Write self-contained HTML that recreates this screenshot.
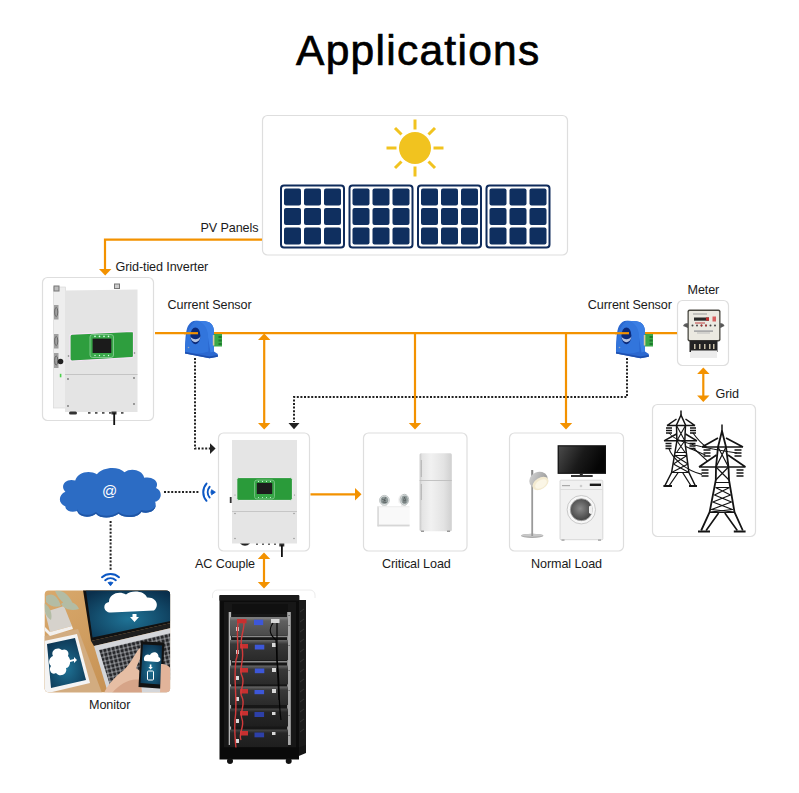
<!DOCTYPE html>
<html><head><meta charset="utf-8">
<style>
html,body{margin:0;padding:0;background:#fff;}
body{width:799px;height:793px;position:relative;overflow:hidden;font-family:"Liberation Sans",sans-serif;}
svg{position:absolute;left:0;top:0;}
.t{font-family:"Liberation Sans",sans-serif;font-size:12.6px;letter-spacing:-0.1px;fill:#1a1a1a;}
</style></head><body>
<svg width="799" height="793" viewBox="0 0 799 793">
<defs>
  <g id="panel">
    <rect x="1" y="1" width="63" height="62" rx="3" fill="#fff" stroke="#0f2b5b" stroke-width="2"/>
    <g fill="#0f2f5f">
      <rect x="4" y="4" width="17" height="17" rx="2"/>
      <rect x="24" y="4" width="17" height="17" rx="2"/>
      <rect x="44" y="4" width="17" height="17" rx="2"/>
      <rect x="4" y="23.5" width="17" height="17" rx="2"/>
      <rect x="24" y="23.5" width="17" height="17" rx="2"/>
      <rect x="44" y="23.5" width="17" height="17" rx="2"/>
      <rect x="4" y="43" width="17" height="17" rx="2"/>
      <rect x="24" y="43" width="17" height="17" rx="2"/>
      <rect x="44" y="43" width="17" height="17" rx="2"/>
    </g>
  </g>
</defs>

<!-- Title -->
<text x="296" y="65.2" font-family="Liberation Sans" font-size="42.5" letter-spacing="1.28" fill="#000" stroke="#000" stroke-width="0.7">Applications</text>

<!-- boxes -->
<g fill="#fff" stroke="#dedede" stroke-width="1.2">
  <rect x="262.5" y="115.5" width="305" height="139.5" rx="5"/>
  <rect x="42.5" y="277.5" width="111" height="143" rx="5"/>
  <rect x="677.5" y="300.5" width="51" height="65" rx="5"/>
  <rect x="652.5" y="404.5" width="103" height="132" rx="5"/>
  <rect x="218.5" y="433" width="91" height="118" rx="5"/>
  <rect x="363.5" y="433" width="103.5" height="118" rx="5"/>
  <rect x="509.5" y="433" width="114" height="118" rx="5"/>
</g>

<!-- sun -->
<g fill="#f1c31f">
  <circle cx="415" cy="148" r="16"/>
</g>
<g stroke="#f1c31f" stroke-width="3">
  <line x1="415" y1="119.5" x2="415" y2="129.5"/>
  <line x1="415" y1="166.5" x2="415" y2="176.5"/>
  <line x1="386.5" y1="148" x2="396.5" y2="148"/>
  <line x1="433.5" y1="148" x2="443.5" y2="148"/>
  <line x1="395" y1="128" x2="401.5" y2="134.5"/>
  <line x1="435" y1="128" x2="428.5" y2="134.5"/>
  <line x1="395" y1="168" x2="401.5" y2="161.5"/>
  <line x1="435" y1="168" x2="428.5" y2="161.5"/>
</g>

<!-- panels -->
<use href="#panel" x="280" y="184.5"/>
<use href="#panel" x="348.5" y="184.5"/>
<use href="#panel" x="417" y="184.5"/>
<use href="#panel" x="485.5" y="184.5"/>

<!-- dotted lines -->
<g stroke="#222" stroke-width="2" fill="none" stroke-dasharray="2 1.6">
  <path d="M195 358 V448.6 H211"/>
  <path d="M627 358 V397 H294 V422"/>
  <path d="M164 492 H199"/>
  <path d="M110.6 521 V571"/>
</g>
<g fill="#222">
  <path d="M210 443.2 V454 L215.6 448.6 Z"/>
  <path d="M288.5 423 H299.5 L294 429.2 Z"/>
</g>

<!-- orange lines -->
<g stroke="#f39200" stroke-width="2.2" fill="none">
  <path d="M262 239.7 H105 V270"/>
  <path d="M155 333.2 H677"/>
  <path d="M264.2 338 V424"/>
  <path d="M415 333.2 V424"/>
  <path d="M566 333.2 V424"/>
  <path d="M310.5 494.3 H356"/>
  <path d="M264 556 V584"/>
  <path d="M703.3 372 V397"/>
</g>
<g fill="#f39200">
  <path d="M99 269 H111.4 L105.2 275.5 Z"/>
  <path d="M258 340 H270.4 L264.2 333.6 Z"/>
  <path d="M258 423 H270.4 L264.2 429.4 Z"/>
  <path d="M408.8 423 H421.2 L415 429.4 Z"/>
  <path d="M559.8 423 H572.2 L566 429.4 Z"/>
  <path d="M355 488 V500.5 L361.5 494.3 Z"/>
  <path d="M257.8 559 H270.2 L264 552.6 Z"/>
  <path d="M257.8 582 H270.2 L264 588.4 Z"/>
  <path d="M697.1 374 H709.5 L703.3 367.6 Z"/>
  <path d="M697.1 395.5 H709.5 L703.3 401.9 Z"/>
</g>

<!-- grid-tied inverter -->
<g id="inv1">
  <rect x="53.5" y="287" width="12" height="121" fill="#eeeeee" stroke="#d4d4d4" stroke-width="0.6"/>
  <rect x="54" y="305" width="4.5" height="14.5" fill="#a0a0a0"/>
  <rect x="54" y="334" width="4.5" height="14.5" fill="#a0a0a0"/>
  <rect x="54" y="353" width="4.5" height="15" fill="#a0a0a0"/>
  <g fill="none" stroke="#5a5a5a" stroke-width="0.8"><ellipse cx="56.2" cy="312" rx="1.6" ry="4.5"/><ellipse cx="56.2" cy="341" rx="1.6" ry="4.5"/><ellipse cx="56.2" cy="360.5" rx="1.6" ry="4.5"/></g>
  <circle cx="60.5" cy="361.5" r="2.8" fill="#222"/>
  <rect x="59.8" y="373.8" width="1.6" height="3.5" fill="#4cd04c"/>
  <rect x="54" y="286" width="5" height="5" fill="#bbb" stroke="#777" stroke-width="1"/>
  <rect x="114.5" y="284" width="5" height="4.5" fill="#ccc" stroke="#777" stroke-width="1"/>
  <path d="M65 290.5 L137.5 289.5 V412 H65 Z" fill="#e4e4e4"/>
  <path d="M65 374.5 H137.5" stroke="#c4c4c4" stroke-width="1"/>
  <path d="M72 334.2 L132 331.3 Q133.5 331.3 133.5 333 L133.5 356 Q133.5 357.5 132 357.6 L72 361 Q70 361 70 359 L70 336.4 Q70 334.3 72 334.2 Z" fill="#2e9e3e" stroke="#f6e4f6" stroke-width="1.2"/>
  <rect x="90" y="334.5" width="23.5" height="23" rx="2.5" fill="#3aa84a" stroke="#8fd09a" stroke-width="0.8"/>
  <rect x="92.6" y="338.6" width="18.7" height="14.4" fill="#1b1b1b"/>
  <g fill="#dfe">
    <circle cx="95" cy="336.4" r="0.8"/><circle cx="99.5" cy="336.4" r="0.8"/><circle cx="104" cy="336.4" r="0.8"/><circle cx="108.5" cy="336.4" r="0.8"/>
    <circle cx="95" cy="355.5" r="0.7"/><circle cx="99.5" cy="355.5" r="0.7"/><circle cx="104" cy="355.5" r="0.7"/><circle cx="108.5" cy="355.5" r="0.7"/>
  </g>
  <g fill="#777"><circle cx="68" cy="379" r="0.9"/><circle cx="134" cy="378" r="0.9"/><circle cx="68" cy="406" r="0.9"/><circle cx="134" cy="404" r="0.9"/><circle cx="68.5" cy="356" r="0.8"/><circle cx="134.5" cy="353" r="0.8"/></g>
  <rect x="69" y="411.5" width="8" height="3" rx="1.5" fill="#333"/>
  <g fill="#555"><rect x="88" y="412" width="2.5" height="1.8"/><rect x="95" y="412" width="2.5" height="1.8"/><rect x="102" y="412" width="2.5" height="1.8"/><rect x="109" y="412" width="2.5" height="1.8"/><rect x="121" y="412" width="2.5" height="1.8"/></g>
  <rect x="111.5" y="411.5" width="5" height="3" fill="#333"/>
  <rect x="113.3" y="413" width="1.8" height="12" fill="#111"/>
</g>

<!-- AC couple inverter -->
<g id="inv2">
  <rect x="232" y="440" width="65" height="103.5" fill="#e5e5e5"/>
  <path d="M232 511.5 H297" stroke="#c6c6c6" stroke-width="1"/>
  <rect x="236.8" y="477.6" width="55.6" height="22.8" rx="2" fill="#2a9b3a" stroke="#f4eef4" stroke-width="1"/>
  <rect x="254.5" y="480" width="20" height="19" rx="2.5" fill="#36a646" stroke="#8ccc96" stroke-width="0.7"/>
  <rect x="256.8" y="482.9" width="15.4" height="11.1" fill="#1c1c1c"/>
  <g fill="#dfe">
    <circle cx="258.5" cy="481.3" r="0.6"/><circle cx="262.5" cy="481.3" r="0.6"/><circle cx="266.5" cy="481.3" r="0.6"/><circle cx="270.5" cy="481.3" r="0.6"/>
    <circle cx="258.5" cy="497.5" r="0.5"/><circle cx="262.5" cy="497.5" r="0.5"/><circle cx="266.5" cy="497.5" r="0.5"/><circle cx="270.5" cy="497.5" r="0.5"/>
  </g>
  <g fill="#888"><circle cx="235" cy="513.5" r="0.7"/><circle cx="294" cy="513.5" r="0.7"/><circle cx="235" cy="538.5" r="0.7"/><circle cx="294" cy="538.5" r="0.7"/><circle cx="235" cy="495" r="0.6"/><circle cx="294.5" cy="495" r="0.6"/></g>
  <rect x="229.8" y="497" width="1.8" height="6" fill="#333"/>
  <path d="M240 543.5 Q245 548 250 543.5 Z" fill="#222"/>
  <g fill="#666"><rect x="256" y="543.5" width="2" height="1.5"/><rect x="262" y="543.5" width="2" height="1.5"/><rect x="268" y="543.5" width="2" height="1.5"/><rect x="274" y="543.5" width="2" height="1.5"/></g>
  <rect x="279.3" y="543.5" width="5" height="3" fill="#333"/>
  <rect x="281" y="545" width="1.8" height="12" fill="#111"/>
</g>

<!-- current sensors -->
<defs>
  <g id="sensor">
    <path d="M0.5 33 C0.5 22 1 10 3.5 5.5 C5.5 2 8 0.2 11 0.2 L21 0.8 C26.5 1.5 29.5 5.5 29.5 11 L29.5 31 L33.3 33.5 L33.3 36.2 L25 37.8 Z" fill="#2b68d0"/>
    <path d="M11 0.2 L21 0.8 C26.5 1.5 29.5 5.5 29.5 11 L29.5 31 L26 32 L23 14 C22 6 17 1 11 0.2 Z" fill="#3a7ee4"/>
    <path d="M0.8 31 C1 20 1.5 8 11 0.5 C19 1 23 7 23.5 15 L24 31 C16 34 6 33 0.8 31 Z" fill="#3275dc"/>
    <ellipse cx="10.9" cy="15.3" rx="5" ry="8.4" fill="#0b2a7a"/>
    <path d="M6 16 C6.5 23.5 15.3 23.5 15.8 16 C14 19.5 8 19.5 6 16 Z" fill="#b4c4e2"/>
    <rect x="29.3" y="13.5" width="8.2" height="12.5" fill="#3aa848"/>
    <g fill="#1f7a2e"><rect x="34" y="15.5" width="3.2" height="2"/><rect x="34" y="19" width="3.2" height="2"/><rect x="34" y="22.5" width="3.2" height="2"/></g>
    <rect x="28.3" y="14.5" width="1.6" height="10.5" fill="#d8c8a0"/>
    <path d="M0.5 33 L25 37.8 L33.3 36.2 L33.3 34.5 L25 36 L0.6 31.5 Z" fill="#1d4fae"/>
    <circle cx="4" cy="27" r="0.8" fill="#9ab"/>
  </g>
</defs>
<use href="#sensor" x="184.5" y="320.5"/>
<use href="#sensor" x="615.5" y="320.5"/>
<!-- orange line passes through sensor hole -->
<path d="M184 333.2 H198" stroke="#f39200" stroke-width="2.2"/>
<path d="M615 333.2 H629" stroke="#f39200" stroke-width="2.2"/>

<!-- meter -->
<g id="meter">
  <rect x="687.5" y="309.5" width="33" height="32" rx="2" fill="#4a4942"/>
  <rect x="688.8" y="311" width="30.4" height="29" rx="1" fill="#ebe9e1"/>
  <rect x="693" y="313.5" width="14" height="1" fill="#999"/>
  <rect x="694" y="317.5" width="15" height="3.2" fill="#2b2b2b"/>
  <rect x="706" y="317.5" width="3" height="3.2" fill="#c03030"/>
  <rect x="712.5" y="316.5" width="3.5" height="5" fill="#d86060"/>
  <rect x="695" y="322.5" width="10" height="1" fill="#c04040"/>
  <g fill="#444"><circle cx="692.5" cy="325.5" r="1"/><circle cx="697" cy="325.5" r="1"/><circle cx="701.5" cy="325.5" r="1"/><circle cx="706" cy="325.5" r="1"/><circle cx="710.5" cy="325.5" r="1"/><circle cx="715" cy="325.5" r="1"/></g>
  <g fill="#b03030"><circle cx="701.5" cy="325.5" r="0.9"/><circle cx="706" cy="325.5" r="0.9"/></g>
  <rect x="694" y="330" width="19" height="1" fill="#bbb"/>
  <rect x="697" y="332.5" width="13" height="1" fill="#bbb"/>
  <path d="M683 326 Q684 323 688 323 V328 Z" fill="#666"/>
  <path d="M724.5 326 Q723.5 323 720 323 V328 Z" fill="#666"/>
  <rect x="689.5" y="340.5" width="28" height="11.5" fill="#242424"/>
  <g fill="#cfc6ae"><rect x="693" y="343" width="1.6" height="7"/><rect x="698" y="343" width="1.6" height="7"/><rect x="703" y="343" width="1.6" height="7"/><rect x="708" y="343" width="1.6" height="7"/><rect x="713" y="343" width="1.6" height="7"/></g>
  <rect x="690" y="352" width="27" height="6" fill="#ededed"/>
  <circle cx="703.8" cy="352.5" r="1.5" fill="#555"/>
</g>
  <rect x="694" y="331" width="19" height="1" fill="#aaa"/>
  <path d="M684 325 L688 324 L688 328 Z" fill="#555"/>
  <path d="M724 325 L720.5 324 L720.5 328 Z" fill="#555"/>
  <rect x="691.5" y="342.5" width="25" height="8" fill="#222"/>
  <g fill="#c9c0a8"><rect x="694" y="344" width="1.5" height="5"/><rect x="699" y="344" width="1.5" height="5"/><rect x="704" y="344" width="1.5" height="5"/><rect x="709" y="344" width="1.5" height="5"/><rect x="713" y="344" width="1.5" height="5"/></g>
  <rect x="691" y="350.5" width="26" height="6" fill="#ececec"/>
</g>

<!-- grid towers -->
<g id="towers" stroke="#141414" fill="none" stroke-width="1.5" stroke-linejoin="round">
  <!-- small tower -->
  <path d="M681 410.5 V415"/>
  <path d="M665 485.5 L671.6 472.5 L676.9 440.8 L676.5 425 L681 415 L685.5 425 L684.8 440.8 L688.9 472.5 L695.2 485.5"/>
  <path d="M669.3 485.5 L678.2 472.5 M682.6 472.5 L690.8 485.5" stroke-width="1.3"/>
  <path d="M667 425.6 H695 M667 425.6 L676.5 419 M695 425.6 L685.5 419"/>
  <path d="M664 440.8 H697 M664 440.8 L676.5 434 M697 440.8 L685.5 434"/>
  <path d="M676.5 425.6 L684.8 440.8 M685.5 425.6 L676.9 440.8 M676.9 440.8 L684.8 452 M684.8 440.8 L676.9 452 M675 452.5 H686.5 M674.6 455.5 H687 M674.6 455.5 L688 464 M687 455.5 L673.4 464 M673.4 464 L688.9 472.5 M688 464 L671.6 472.5 M671.6 472.5 H688.9" stroke-width="1.1"/>
  <g stroke-width="1.4">
    <path d="M666 428 h6 M666 430.5 h6 M666 433 h6"/>
    <path d="M690 428 h6 M690 430.5 h6 M690 433 h6"/>
    <path d="M665.5 443.5 h6 M665.5 446 h6 M665.5 448.5 h6"/>
    <path d="M689.5 443.5 h6 M689.5 446 h6 M689.5 448.5 h6"/>
  </g>
  <path d="M663.4 486 H672 M689 486 H697" stroke-width="2"/>
  <!-- wires -->
  <path d="M693 433 C698 440 702 444 706.5 447" stroke-width="1.1"/>
  <path d="M668.7 448 C672 458 685 470 702 474.4" stroke-width="1.1"/>
  <path d="M685 446.3 L705.3 455" stroke-width="1.1"/>
  <path d="M693.3 448 L707.8 461.4" stroke-width="1.1"/>
  <path d="M669 433 C674 440 690 446 737 453" stroke-width="1"/>
  <!-- big tower -->
  <path d="M722 424.5 V431"/>
  <path d="M701.2 530.5 L709.6 512.2 L715.8 480 L716 467 L718 447 L722 431 L726 447 L728.5 467 L729 480 L734.5 512.2 L742.8 530.5" stroke-width="1.8"/>
  <path d="M706.1 530.5 L718.6 513 M724.8 513 L737.3 530.5" stroke-width="1.6"/>
  <path d="M702 447 H743 M702 447 L718 438 M743 447 L726 438" stroke-width="1.7"/>
  <path d="M699 467 H745.5 M699 467 L716.5 455 M745.5 467 L728 455" stroke-width="1.7"/>
  <path d="M718 447 L728.5 467 M726 447 L716 467 M716 467 L729 480 M728.5 467 L715.8 480 M715.8 482.5 H729.2 M715.5 487.5 H729.5 M715.5 487.5 L730.5 495 L712.8 502 L732.5 509.5 L710 512.2 M729.5 487.5 L714.5 495 L731.5 502 L711.5 509.5 L734.5 512.2 M709.6 512.5 H734.5" stroke-width="1.2"/>
  <g stroke-width="1.6">
    <path d="M703.5 450 h7 M703.5 453 h7 M703.5 456 h7"/>
    <path d="M734.5 450 h7 M734.5 453 h7 M734.5 456 h7"/>
    <path d="M701.5 470 h7 M701.5 473 h7 M701.5 476 h7"/>
    <path d="M736.5 470 h7 M736.5 473 h7 M736.5 476 h7"/>
  </g>
  <path d="M698 531.5 H710 M733.8 531.5 H745.6" stroke-width="2.2"/>
</g>
  <path d="M697 531.5 H711 M733 531.5 H747" stroke-width="2.2"/>
</g>

<!-- critical load -->
<g id="critical">
  <defs>
    <linearGradient id="fr" x1="0" x2="1" y1="0" y2="0">
      <stop offset="0" stop-color="#c6c6c6"/><stop offset="0.08" stop-color="#e4e4e4"/><stop offset="0.35" stop-color="#f1f1f1"/><stop offset="0.75" stop-color="#e3e3e3"/><stop offset="1" stop-color="#d0d0d0"/>
    </linearGradient>
  </defs>
  <rect x="419.6" y="453.2" width="32.2" height="78" rx="1.5" fill="url(#fr)"/>
  <path d="M419.6 480.5 H451.8" stroke="#bdbdbd" stroke-width="0.9"/>
  <rect x="420.8" y="460" width="1.2" height="17" fill="#bbb"/>
  <rect x="420.8" y="484" width="1.2" height="16" fill="#bbb"/>
  <rect x="421" y="530.5" width="3" height="1.5" fill="#999"/><rect x="447" y="530.5" width="3" height="1.5" fill="#999"/>
  <rect x="377.2" y="506.4" width="32.4" height="20" rx="1" fill="#f9f9f9"/>
  <rect x="377.2" y="506.4" width="1.8" height="20" fill="#dcdcdc"/>
  <rect x="377.6" y="524.6" width="32" height="1.8" fill="#d6d6d6"/>
  <rect x="377.2" y="506.4" width="32.4" height="0.8" fill="#e8e8e8"/>
  <rect x="382" y="503.5" width="5" height="3" fill="#ececec"/>
  <rect x="401" y="503.5" width="5" height="3" fill="#ececec"/>
  <circle cx="384.4" cy="500.3" r="4.9" fill="#e9ecec" stroke="#b4baba" stroke-width="0.8"/>
  <circle cx="384.4" cy="500.3" r="3.8" fill="#8f9999"/>
  <path d="M382 499 L386 501 M385.5 497.5 L384 501.5 M382.5 502 L386.5 502.5" stroke="#4e5656" stroke-width="0.8"/>
  <path d="M398.5 503 C397.5 498 399 495 402 494.3 L404 505 Z" fill="#f2f2f2"/>
  <ellipse cx="404.4" cy="499.7" rx="4.3" ry="5.4" fill="#e6eaea" stroke="#aab0b0" stroke-width="0.8"/>
  <ellipse cx="404.6" cy="499.7" rx="3.3" ry="4.3" fill="#8f9999"/>
  <path d="M404.5 497 L403.5 500.5 L405.8 500.5 Z M403 502 h3" stroke="#4e5656" stroke-width="0.7" fill="none"/>
</g>

<!-- normal load -->
<g id="normal">
  <defs>
    <linearGradient id="tv" x1="0" x2="1" y1="0" y2="0.3">
      <stop offset="0" stop-color="#4a4a4a"/><stop offset="0.55" stop-color="#1a1a1a"/><stop offset="1" stop-color="#050505"/>
    </linearGradient>
    <radialGradient id="drum" cx="0.45" cy="0.45" r="0.6">
      <stop offset="0" stop-color="#8a8a8a"/><stop offset="1" stop-color="#3c3c3c"/>
    </radialGradient>
  </defs>
  <rect x="557.6" y="445.2" width="48.4" height="28.7" fill="#111"/>
  <rect x="558.8" y="446.4" width="46" height="26.3" fill="url(#tv)"/>
  <rect x="579.8" y="473.9" width="3" height="1.5" fill="#222"/>
  <rect x="571" y="475" width="21.7" height="2" fill="#333"/>
  <rect x="560" y="480.2" width="42.8" height="59.5" rx="1" fill="#f1f1f1" stroke="#d0d0d0" stroke-width="0.8"/>
  <path d="M560.4 489.5 H602.4" stroke="#d8d8d8" stroke-width="0.8"/>
  <rect x="589.8" y="483.6" width="11.2" height="2.4" fill="#1a1a1a"/>
  <rect x="562" y="485" width="8" height="1.2" fill="#aaa"/>
  <circle cx="581" cy="486" r="1.3" fill="#ccc"/>
  <circle cx="581.3" cy="509.7" r="14.2" fill="#f7f7f7" stroke="#c9c9c9" stroke-width="1"/>
  <circle cx="581.3" cy="509.7" r="11" fill="url(#drum)" stroke="#aaa" stroke-width="0.8"/>
  <path d="M591.5 505 A11 11 0 0 1 591.5 514.5 L589 513 V506.5 Z" fill="#f0f0f0"/>
  <rect x="561.5" y="539.5" width="3" height="1.2" fill="#999"/><rect x="598" y="539.5" width="3" height="1.2" fill="#999"/>
  <!-- lamp -->
  <ellipse cx="532.2" cy="535.8" rx="11.3" ry="2.1" fill="#a9a9a9"/>
  <ellipse cx="532.2" cy="535.3" rx="11" ry="1.5" fill="#c8c8c8"/>
  <rect x="531.3" y="478" width="1.8" height="58" fill="#9a9a9a"/>
  <defs><linearGradient id="dome" x1="0" x2="1" y1="0" y2="1"><stop offset="0" stop-color="#d8d8d8"/><stop offset="1" stop-color="#8c8c8c"/></linearGradient></defs>
  <path d="M531.2 482 L531.2 470 L533.2 470 L533.5 482 Z" fill="#8a8a8a"/>
  <ellipse cx="538.5" cy="480" rx="9.5" ry="8" fill="url(#dome)" transform="rotate(-25 538.5 480)"/>
  <ellipse cx="540.5" cy="483.5" rx="8.8" ry="5.6" fill="#f3ead0" transform="rotate(-32 540.5 483.5)"/>
  <ellipse cx="541" cy="484" rx="6.5" ry="3.8" fill="#fbf6e6" transform="rotate(-32 541 484)"/>
</g>

<!-- cloud + wifi -->
<g id="cloud">
<g transform="matrix(0.985 0 0 0.921 2.37 39.46)">
  <path d="M64 507 C56 504 57 494 64 491 C58 485 64 476 74 479 C76 470 88 467 96 472 C102 464 118 463 124 470 C130 465 142 467 144 476 C152 474 160 480 156 487 C163 490 162 500 155 502 C158 510 150 516 141 513 C137 520 124 520 118 515 C112 520 100 521 95 515 C89 520 78 519 76 512 C70 514 64 512 64 507 Z" fill="#2c6cc4"/>
  <path d="M76 512 C78 519 89 520 95 515 C100 521 112 520 118 515 C124 520 137 520 141 513 C150 516 158 510 155 502 C158 508 150 514 141 511 C137 518 124 518 118 513 C112 518 100 519 95 513 C89 518 78 517 76 510 Z" fill="#1f56a6"/>
</g>
  <text x="109.5" y="496" font-family="Liberation Sans" font-size="15" fill="#fff" text-anchor="middle">@</text>
</g>
<g fill="none" stroke="#0b57c4" stroke-width="2" stroke-linecap="round">
  <path d="M102 577.2 A13 13 0 0 1 119 577.2"/>
  <path d="M105.2 580.2 A8.5 8.5 0 0 1 115.8 580.2"/>
  <path d="M206.5 483.6 A13 13 0 0 0 206.5 500.8"/>
  <path d="M209.6 486.9 A8.5 8.5 0 0 0 209.6 497.5"/>
</g>
<path d="M108 582.6 A5.5 5.5 0 0 1 113 582.6 L110.5 585.8 Z" fill="#0b57c4" stroke="#0b57c4" stroke-width="0.8" stroke-linejoin="round"/>
<path d="M211.6 489.7 L215.4 492.2 L211.6 494.8 A5 5 0 0 1 211.6 489.7 Z" fill="#0b57c4" stroke="#0b57c4" stroke-width="0.8" stroke-linejoin="round"/>

<!-- battery rack -->
<path d="M212.5 598 V595 A5 5 0 0 1 217.5 590 H310 A5 5 0 0 1 315 595 V598" fill="none" stroke="#ececec" stroke-width="1"/>
<g id="rack">
  <defs>
    <linearGradient id="m1" x1="0" x2="0" y1="0" y2="1"><stop offset="0" stop-color="#8a8a8a"/><stop offset="0.2" stop-color="#606060"/><stop offset="1" stop-color="#4a4a4a"/></linearGradient>
    <linearGradient id="m2" x1="0" x2="0" y1="0" y2="1"><stop offset="0" stop-color="#6a6a6a"/><stop offset="0.2" stop-color="#383838"/><stop offset="1" stop-color="#2a2a2a"/></linearGradient>
    <linearGradient id="m3" x1="0" x2="0" y1="0" y2="1"><stop offset="0" stop-color="#4a4a4a"/><stop offset="0.2" stop-color="#262626"/><stop offset="1" stop-color="#1e1e1e"/></linearGradient>
  </defs>
  <rect x="298" y="600" width="8" height="153" fill="#1b1b1b"/>
  <g stroke="#3a3a3a" stroke-width="0.8"><path d="M300 612 l4 -3 M300 622 l4 -3 M300 632 l4 -3 M300 642 l4 -3 M300 652 l4 -3 M300 662 l4 -3 M300 672 l4 -3 M300 682 l4 -3 M300 692 l4 -3 M300 702 l4 -3 M300 712 l4 -3 M300 722 l4 -3 M300 732 l4 -3"/></g>
  <rect x="219.2" y="595" width="80.2" height="6" rx="1" fill="#1a1a1a"/>
  <rect x="219.5" y="600.5" width="79.5" height="159" fill="#0c0c0c"/>
  <rect x="224" y="602" width="72" height="145.5" fill="#171717"/>
  <rect x="232" y="604" width="56" height="10" fill="#101010"/>
  <rect x="228.7" y="612" width="2.4" height="133" fill="#b5b5b5"/>
  <rect x="287.2" y="612" width="3.6" height="133" fill="#a8a8a8"/>
  <g fill="#555"><rect x="288.5" y="615" width="1.2" height="1"/><rect x="288.5" y="625" width="1.2" height="1"/><rect x="288.5" y="645" width="1.2" height="1"/><rect x="288.5" y="670" width="1.2" height="1"/><rect x="288.5" y="690" width="1.2" height="1"/><rect x="288.5" y="715" width="1.2" height="1"/><rect x="288.5" y="735" width="1.2" height="1"/></g>
  <rect x="230" y="617.1" width="58" height="18.7" fill="url(#m1)"/>
  <rect x="230" y="640" width="58" height="20.2" fill="url(#m2)"/>
  <rect x="230" y="665.5" width="58" height="18.9" fill="url(#m2)"/>
  <rect x="230" y="686.4" width="58" height="18.6" fill="url(#m2)"/>
  <rect x="230" y="708.5" width="58" height="18" fill="url(#m3)"/>
  <rect x="230" y="729.5" width="58" height="17.5" fill="url(#m3)"/>
  <g fill="#8a8a8a"><rect x="232" y="661" width="56" height="1.5"/><rect x="232" y="636" width="56" height="1.2"/></g>
  <g fill="#3d57d8">
    <rect x="254" y="619.7" width="9.2" height="5.4"/>
    <rect x="254.8" y="644.7" width="9.5" height="4.8"/>
    <rect x="254.8" y="668.5" width="9.5" height="4.7"/>
    <rect x="254.5" y="690" width="9.6" height="4.2"/>
  </g>
  <g fill="#2d40a8">
    <rect x="254.5" y="712" width="9.6" height="5"/>
    <rect x="254.5" y="732.5" width="9.6" height="4.8"/>
  </g>
  <g fill="#c83030">
    <rect x="237" y="619" width="9.5" height="4.3"/>
    <rect x="240" y="644" width="8" height="4.5"/>
    <rect x="240" y="668" width="8" height="4.5"/>
    <rect x="240" y="689" width="8" height="4.5"/>
    <rect x="240" y="711" width="8" height="4.5"/>
    <rect x="240" y="731" width="8" height="4.5"/>
  </g>
  <g fill="#d8d8d8">
    <rect x="236" y="627" width="3" height="4"/><rect x="236" y="650" width="3" height="4"/><rect x="236" y="676" width="3" height="4"/><rect x="236" y="697" width="3" height="4"/><rect x="236" y="719" width="3" height="4"/><rect x="236" y="739" width="3" height="4"/>
    <rect x="271" y="619" width="8.5" height="4"/>
    <rect x="272" y="643" width="4" height="4"/><rect x="272" y="668" width="4" height="4"/><rect x="272" y="689" width="4" height="4"/><rect x="272" y="712" width="3.5" height="3"/><rect x="272" y="732" width="3.5" height="3"/>
  </g>
  <g fill="none" stroke="#d23a3a" stroke-width="1.4">
    <path d="M238 623 C236 640 240 650 236 660 C233 680 238 700 235 720 C234 735 236 748 237 758"/>
    <path d="M244 623 C244 632 239 640 242 648 C245 660 238 670 242 676 C246 684 238 692 242 697 C246 705 239 712 242 719 C245 726 238 734 241 740"/>
  </g>
  <g fill="none" stroke="#050505" stroke-width="1.2">
    <path d="M273 623 C268 630 270 635 276 640 L279 700"/>
    <path d="M277 623 L277 660 C280 680 278 700 281 720"/>
  </g>
  <rect x="220.4" y="747.5" width="78.5" height="11.5" fill="#0a0a0a"/>
  <path d="M298.9 747.5 L306 745 V753 L298.9 756 Z" fill="#151515"/>
  <circle cx="230" cy="761" r="3" fill="#111"/>
  <circle cx="288.7" cy="761" r="3" fill="#111"/>
</g>

<!-- monitor photo -->
<g id="monitor">
  <defs>
    <clipPath id="mclip"><rect x="44.7" y="590.6" width="125.4" height="101.7" rx="4"/></clipPath>
    <linearGradient id="wood" x1="0" x2="1" y1="0" y2="1"><stop offset="0" stop-color="#d9a96c"/><stop offset="1" stop-color="#c08a4c"/></linearGradient>
    <radialGradient id="scr" cx="0.5" cy="0.6" r="0.7"><stop offset="0" stop-color="#1f7396"/><stop offset="1" stop-color="#0a2f4c"/></radialGradient>
    <pattern id="keys" width="4.2" height="4.2" patternUnits="userSpaceOnUse" patternTransform="rotate(-13)">
      <rect width="4.2" height="4.2" fill="#9a9ca0"/>
      <rect x="0.5" y="0.5" width="3.2" height="3.2" rx="0.6" fill="#26272a"/>
    </pattern>
  </defs>
  <g clip-path="url(#mclip)">
    <rect x="44" y="590" width="127" height="103" fill="url(#wood)"/>
    <path d="M44 636 L78 629 L102 693 L44 693 Z" fill="#d2ac80"/>
    <path d="M45 612 L64 606 L72 626 L50 632 Z" fill="#d6d2cc"/>
    <path d="M45 627 L50 632 L72 626 L73 629 L50 636 L45 631 Z" fill="#f2f0ee"/>
    <path d="M46 596 C52 592 58 596 61 606 C55 608 50 606 46 602 Z M55 591 C63 589 70 596 73 604 C66 606 60 602 55 591 Z M61 604 C67 599 76 602 79 609 C72 611 65 610 61 604 Z M44 603 C49 606 53 612 51 620 C46 617 44 611 44 603 Z" fill="#b3bca4"/>
    <path d="M83 590 H171 V623 L91 641 Z" fill="#111"/>
    <path d="M86 590.6 H170.5 V621 L92.5 637.5 Z" fill="url(#scr)"/>
    <path d="M111 612.5 C103 612.5 102 603 109 602 C109 594 119 590.5 126 594.5 C131 589.5 145 590.5 147 597.5 C156 597 160 605 154 610.5 Z" fill="#fff"/>
    <path d="M132.5 614 h4 v3 h2.5 l-4.5 5 l-4.5 -5 h2.5 Z" fill="#fff"/>
    <path d="M91 641 L171 623 L171 628 L94 646 Z" fill="#1e1e1e"/>
    <path d="M94 646 L171 628 L171 693 L108 693 Z" fill="#d4d6da"/>
    <path d="M99 650 L171 633 L171 680 L112 692 Z" fill="url(#keys)"/>
    <path d="M44 641 L77 634 L90 683 L48 693 L44 693 Z" fill="#f4f4f4"/>
    <path d="M47 644 L75 638 L86 680 L51 688 Z" fill="url(#scr)"/>
    <path d="M53 656 C50 650 58 646 62 650 C66 648 70 652 68 656 C72 660 70 668 66 668 C68 674 60 678 56 673 C52 676 48 670 51 666 C47 662 50 657 53 656 Z" fill="#fff"/>
    <path d="M70 660 l4 -1 v-2 l3 3 l-3 3 v-2 l-4 1 Z" fill="#fff"/>
    <path d="M104 693 C108 684 116 676 124 670 C130 664 134 656 138 650 C140 647 144 648 143 652 L136 668 L141 672 L142 693 Z" fill="#e6bea4"/>
    <path d="M112 693 C120 684 130 678 140 680 L142 693 Z" fill="#d6a488"/>
    <path d="M141 641.3 L164.3 642.5 L162.5 688.7 L138.5 687 Z" fill="#121212"/>
    <path d="M143 644.5 L162 645.5 L160.5 684.5 L140.5 683 Z" fill="url(#scr)"/>
    <path d="M144.5 661 C142.5 656.5 146.5 653 150 655 C152 650.5 159 651.5 158.5 657 C161.5 658 161 662 157.5 662 Z" fill="#fff"/>
    <path d="M149.8 664.5 h1.6 v2.5 h1.4 l-2.2 2.5 l-2.2 -2.5 h1.4 Z" fill="#fff"/>
    <rect x="147.5" y="671" width="6" height="9" rx="1" fill="none" stroke="#fff" stroke-width="1"/>
    <path d="M161 664 C166 664 171 666 171 672 L171 693 L160 693 Z" fill="#e2b49a"/>
  </g>
</g>

<!-- labels -->
<text class="t" x="200.5" y="232">PV Panels</text>
<text class="t" x="115.5" y="270.8">Grid-tied Inverter</text>
<text class="t" x="167.5" y="308.5">Current Sensor</text>
<text class="t" x="587.8" y="308.5">Current Sensor</text>
<text class="t" x="687.5" y="293.8">Meter</text>
<text class="t" x="715.5" y="398">Grid</text>
<text class="t" x="195" y="568">AC Couple</text>
<text class="t" x="382" y="568">Critical Load</text>
<text class="t" x="531" y="568">Normal Load</text>
<text class="t" x="89" y="708.5">Monitor</text>

</svg>
</body></html>
